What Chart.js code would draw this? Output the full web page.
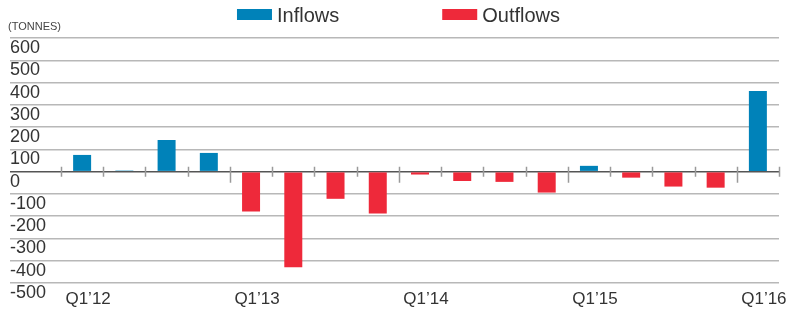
<!DOCTYPE html>
<html>
<head>
<meta charset="utf-8">
<script src="https://cdn.jsdelivr.net/npm/chart.js@4/dist/chart.umd.min.js"></script>
<style>
  html, body { margin: 0; padding: 0; background: #fff; }
  #wrap { width: 787px; height: 312px; }
</style>
</head>
<body>
<div id="wrap"><canvas id="chart"></canvas></div>
<script>
// Quarterly flows, tonnes
const quarters = ['Q1’12', 'Q2’12', 'Q3’12', 'Q4’12',
                  'Q1’13', 'Q2’13', 'Q3’13', 'Q4’13',
                  'Q1’14', 'Q2’14', 'Q3’14', 'Q4’14',
                  'Q1’15', 'Q2’15', 'Q3’15', 'Q4’15',
                  'Q1’16'];
const inflows  = [75, 5, 142, 84, null, null, null, null, null, null, null, null, 26, null, null, null, 362];
const outflows = [null, null, null, null, -179, -429, -122, -188, -13, -42, -46, -94, null, -27, -67, -72, null];
const yMin = -500;
const yMax = 600;
const yStep = 100;
const unitLabel = '(TONNES)';

const FONT = "'Liberation Sans', Arial, sans-serif";
const BLUE = '#0082b9';
const RED = '#ee293a';

// small tick marks on the zero line, longer at year boundaries
const zeroTicks = {
  id: 'zeroTicks',
  afterDatasetsDraw(chart) {
    const x = chart.scales.x, y = chart.scales.y, ctx = chart.ctx;
    const y0 = y.getPixelForValue(0);
    ctx.save();
    ctx.strokeStyle = '#9a9a9a';
    ctx.lineWidth = 1.5;
    ctx.beginPath();
    for (let i = 0; i <= quarters.length; i++) {
      const px = Math.round(x.getPixelForValue(i - 0.5)) + 0.5;
      const long = i % 4 === 0 && i > 0 && i < quarters.length;
      ctx.moveTo(px, y0 - 5);
      ctx.lineTo(px, y0 + (long ? 11 : 5));
    }
    ctx.stroke();
    ctx.restore();
  }
};

// legend + unit label drawn at the top
const topText = {
  id: 'topText',
  afterDraw(chart) {
    const ctx = chart.ctx;
    ctx.save();
    ctx.fillStyle = '#444';
    ctx.font = '11px ' + FONT;
    ctx.textBaseline = 'alphabetic';
    ctx.fillText(unitLabel, 8, 30);

    ctx.font = '20px ' + FONT;
    const boxW = 35, boxH = 11, gapText = 5, gapItem = 103;
    const items = chart.data.datasets.map(d => ({ text: d.label, color: d.backgroundColor, w: ctx.measureText(d.label).width }));
    let total = 0;
    items.forEach((it, i) => { total += boxW + gapText + it.w + (i ? gapItem : 0); });
    let x = 398.5 - total / 2;
    items.forEach(it => {
      ctx.fillStyle = it.color;
      ctx.fillRect(x, 9, boxW, boxH);
      ctx.fillStyle = '#333';
      ctx.fillText(it.text, x + boxW + gapText, 21.5);
      x += boxW + gapText + it.w + gapItem;
    });
    ctx.restore();
  }
};

new Chart(document.getElementById('chart'), {
  type: 'bar',
  data: {
    labels: quarters,
    datasets: [
      { label: 'Inflows', data: inflows, backgroundColor: BLUE },
      { label: 'Outflows', data: outflows, backgroundColor: RED }
    ]
  },
  options: {
    responsive: true,
    maintainAspectRatio: false,
    animation: false,
    layout: { padding: { left: 10, right: 8, top: 38, bottom: 0 } },
    plugins: {
      legend: { display: false },
      tooltip: { enabled: false }
    },
    datasets: {
      bar: { barPercentage: 0.426, categoryPercentage: 1 }
    },
    scales: {
      x: {
        stacked: true,
        offset: true,
        afterFit(scale) { scale.height = 29; },
        grid: { display: false, drawTicks: false },
        border: { display: false },
        ticks: {
          autoSkip: false,
          maxRotation: 0,
          padding: 6,
          labelOffset: 6,
          color: '#333',
          font: { family: FONT, size: 17 },
          callback: function (value, index) {
            return index % 4 === 0 ? this.getLabelForValue(value) : '';
          }
        }
      },
      y: {
        stacked: true,
        min: yMin,
        max: yMax,
        afterFit(scale) { scale.width = 51; },
        grid: {
          drawTicks: true,
          tickLength: 51,
          lineWidth: 1.5,
          color: ctx => ctx.tick && ctx.tick.value === 0 ? '#555' : '#b8b8b8'
        },
        border: { display: false },
        ticks: {
          autoSkip: false,
          stepSize: yStep,
          crossAlign: 'far',
          padding: 0,
          labelOffset: 10,
          color: '#333',
          font: { family: FONT, size: 18 },
          callback: v => String(v)
        }
      }
    }
  },
  plugins: [zeroTicks, topText]
});
</script>
</body>
</html>
